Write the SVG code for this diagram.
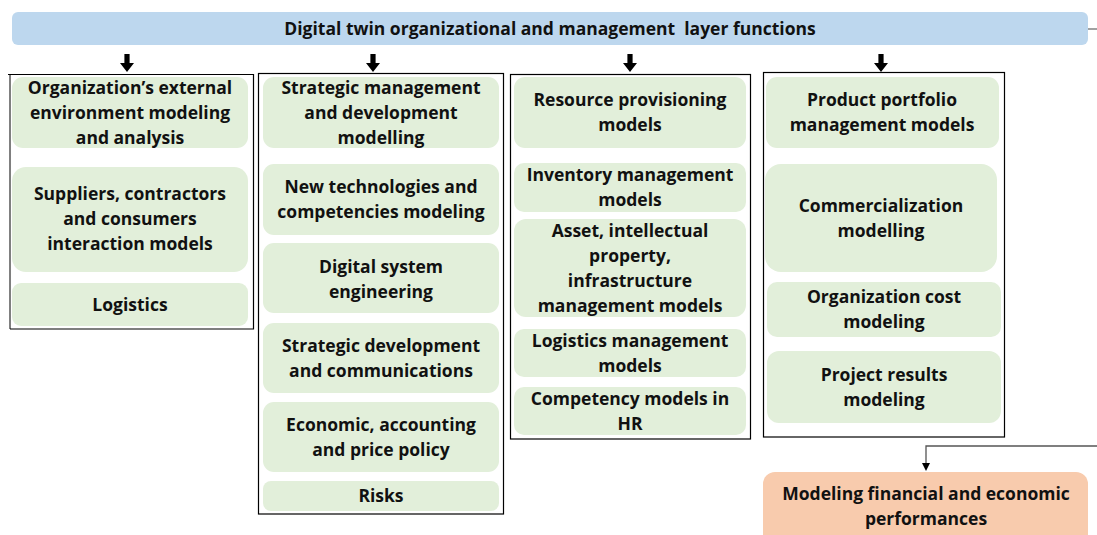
<svg xmlns="http://www.w3.org/2000/svg" width="1097" height="535" viewBox="0 0 1097 535">
<style>
.bg{fill:#ffffff}
.banner{fill:#bdd7ee}
.col{fill:none;stroke:#000;stroke-width:1.2}
.node{fill:#e2efda}
.fin{fill:#f8cbad}
text{font-family:"Open Sans","Noto Sans","Liberation Sans",Arial,sans-serif;font-weight:bold;font-size:17.5px;fill:#111;text-anchor:middle}
.ba{fill:#000}
.line{fill:none;stroke:#6e6e6e;stroke-width:1.3}
</style>
<defs>
<path id="barrow" d="M-2.6,0 H2.6 V9 H7 L0,18 L-7,9 H-2.6 Z"/>
</defs>
<rect class="bg" x="0" y="0" width="1097" height="535"/>

<g id="banner">
<rect class="banner" x="12" y="12" width="1076" height="33" rx="6"/>
<text x="550" y="35" xml:space="preserve">Digital twin organizational and management  layer functions</text>
</g>

<g id="connectors">
<use href="#barrow" class="ba" x="127" y="54"/>
<use href="#barrow" class="ba" x="373" y="54"/>
<use href="#barrow" class="ba" x="630" y="54"/>
<use href="#barrow" class="ba" x="881" y="54"/>
<line class="line" x1="1088" y1="29" x2="1097" y2="29"/>
<path class="line" d="M1097,446 H926 V464" style="stroke:#555"/>
<path d="M922,463 L930,463 L926,471 Z" fill="#000"/>
</g>

<g id="col1">
<path class="col" d="M8,74.5 H253.5 V329 H10"/>
<line x1="10" y1="74.5" x2="10" y2="329" stroke="#000" stroke-width="1"/>
</g>
<g id="col2"><rect class="col" x="258.5" y="73.5" width="245" height="440.5"/></g>
<g id="col3"><rect class="col" x="510.5" y="74.5" width="240" height="364.5"/></g>
<g id="col4"><rect class="col" x="763.5" y="72.5" width="241" height="364.5"/></g>

<g id="n-org-env">
<rect class="node" x="12" y="77" width="236" height="71" rx="11"/>
<text x="130" y="94">Organization’s external</text>
<text x="130" y="119">environment modeling</text>
<text x="130" y="144">and analysis</text>
</g>
<g id="n-suppliers">
<rect class="node" x="12" y="167" width="236" height="105" rx="14"/>
<text x="130" y="200">Suppliers, contractors</text>
<text x="130" y="225">and consumers</text>
<text x="130" y="250">interaction models</text>
</g>
<g id="n-logistics">
<rect class="node" x="12" y="283" width="236" height="43" rx="9"/>
<text x="130" y="311">Logistics</text>
</g>

<g id="n-strat-mgmt">
<rect class="node" x="263" y="77" width="236" height="71" rx="11"/>
<text x="381" y="94">Strategic management</text>
<text x="381" y="119">and development</text>
<text x="381" y="144">modelling</text>
</g>
<g id="n-newtech">
<rect class="node" x="263" y="164" width="236" height="71" rx="11"/>
<text x="381" y="193">New technologies and</text>
<text x="381" y="218">competencies modeling</text>
</g>
<g id="n-digital">
<rect class="node" x="263" y="243" width="236" height="70" rx="11"/>
<text x="381" y="273">Digital system</text>
<text x="381" y="298">engineering</text>
</g>
<g id="n-strat-dev">
<rect class="node" x="263" y="323" width="236" height="70" rx="11"/>
<text x="381" y="352">Strategic development</text>
<text x="381" y="377">and communications</text>
</g>
<g id="n-economic">
<rect class="node" x="263" y="402" width="236" height="70" rx="11"/>
<text x="381" y="431">Economic, accounting</text>
<text x="381" y="456">and price policy</text>
</g>
<g id="n-risks">
<rect class="node" x="263" y="481" width="236" height="30" rx="8"/>
<text x="381" y="502">Risks</text>
</g>

<g id="n-resource">
<rect class="node" x="514" y="77" width="232" height="71" rx="11"/>
<text x="630" y="106">Resource provisioning</text>
<text x="630" y="131">models</text>
</g>
<g id="n-inventory">
<rect class="node" x="514" y="163" width="232" height="49" rx="10"/>
<text x="630" y="181">Inventory management</text>
<text x="630" y="206">models</text>
</g>
<g id="n-asset">
<rect class="node" x="514" y="219" width="232" height="98" rx="12"/>
<text x="630" y="237">Asset, intellectual</text>
<text x="630" y="262">property,</text>
<text x="630" y="287">infrastructure</text>
<text x="630" y="312">management models</text>
</g>
<g id="n-logmgmt">
<rect class="node" x="514" y="329" width="232" height="48" rx="10"/>
<text x="630" y="347">Logistics management</text>
<text x="630" y="372">models</text>
</g>
<g id="n-competency">
<rect class="node" x="514" y="387" width="232" height="48" rx="10"/>
<text x="630" y="405">Competency models in</text>
<text x="630" y="430">HR</text>
</g>

<g id="n-product">
<rect class="node" x="766" y="77" width="233" height="71" rx="11"/>
<text x="882" y="106">Product portfolio</text>
<text x="882" y="131">management models</text>
</g>
<g id="n-commercial">
<rect class="node" x="765" y="164" width="232" height="108" rx="16"/>
<text x="881" y="212">Commercialization</text>
<text x="881" y="237">modelling</text>
</g>
<g id="n-cost">
<rect class="node" x="767" y="282" width="234" height="55" rx="10"/>
<text x="884" y="303">Organization cost</text>
<text x="884" y="328">modeling</text>
</g>
<g id="n-project">
<rect class="node" x="767" y="351" width="234" height="72" rx="12"/>
<text x="884" y="381">Project results</text>
<text x="884" y="406">modeling</text>
</g>

<g id="n-financial">
<rect class="fin" x="763" y="472" width="325" height="75" rx="12"/>
<text x="926" y="500">Modeling financial and economic</text>
<text x="926" y="525">performances</text>
</g>
</svg>
